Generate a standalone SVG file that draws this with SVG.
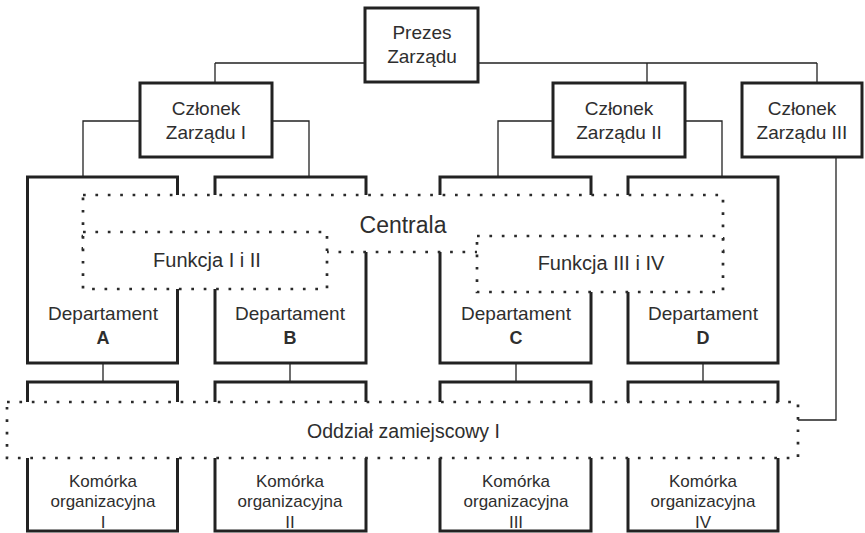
<svg xmlns="http://www.w3.org/2000/svg" width="865" height="533" viewBox="0 0 865 533">
<style>
.box{fill:#fff;stroke:#222;stroke-width:3}
.con{fill:none;stroke:#222;stroke-width:1.3}
.dot{fill:#fff;stroke:#2a2a2a;stroke-width:2.7;stroke-dasharray:2.7 9.7}
text{font-family:"Liberation Sans",Arial,sans-serif;fill:#2e2e2e;text-anchor:middle}
.t{font-size:19px}
.s{font-size:17px}
.b{font-size:18px;font-weight:bold}
</style>
<rect width="865" height="533" fill="#fff"/>
<g id="connectors">
<path class="con" d="M215 63H365M215 63V83M478 63H817M647 63V83M817 63V83"/>
<path class="con" d="M140 121H83V177M272 121H309V177"/>
<path class="con" d="M553 121H498V177M685 121H722V177"/>
<path class="con" d="M836 158V420H798"/>
<path class="con" d="M103 363V382M290 363V382M516 363V382M703 363V382"/>
</g>
<g id="prezes"><rect class="box" x="365" y="8" width="113" height="74"/><text class="t" x="422" y="39">Prezes</text><text class="t" x="422" y="63">Zarządu</text></g>
<g id="czlonek1"><rect class="box" x="140" y="83" width="132" height="74"/><text class="t" x="206" y="114.5">Członek</text><text class="t" x="206" y="139">Zarządu I</text></g>
<g id="czlonek2"><rect class="box" x="553" y="83" width="132" height="74"/><text class="t" x="619" y="114.5">Członek</text><text class="t" x="619" y="139">Zarządu II</text></g>
<g id="czlonek3"><rect class="box" x="742" y="83" width="120" height="74"/><text class="t" x="802" y="114.5">Członek</text><text class="t" x="802" y="139">Zarządu III</text></g>
<g id="depA"><rect class="box" x="27.5" y="177" width="150" height="186"/><text class="t" x="103" y="320">Departament</text><text class="b" x="103" y="344">A</text></g>
<g id="depB"><rect class="box" x="215" y="177" width="151" height="186"/><text class="t" x="290" y="320">Departament</text><text class="b" x="290" y="344">B</text></g>
<g id="depC"><rect class="box" x="440" y="177" width="151" height="186"/><text class="t" x="516" y="320">Departament</text><text class="b" x="516" y="344">C</text></g>
<g id="depD"><rect class="box" x="628" y="177" width="150" height="186"/><text class="t" x="703" y="320">Departament</text><text class="b" x="703" y="344">D</text></g>
<g id="komI"><rect class="box" x="27.5" y="382" width="150" height="149"/><text class="s" x="103" y="487">Komórka</text><text class="s" x="103" y="507">organizacyjna</text><text class="s" x="103" y="528">I</text></g>
<g id="komII"><rect class="box" x="215" y="382" width="151" height="149"/><text class="s" x="290" y="487">Komórka</text><text class="s" x="290" y="507">organizacyjna</text><text class="s" x="290" y="528">II</text></g>
<g id="komIII"><rect class="box" x="440" y="382" width="151" height="149"/><text class="s" x="516" y="487">Komórka</text><text class="s" x="516" y="507">organizacyjna</text><text class="s" x="516" y="528">III</text></g>
<g id="komIV"><rect class="box" x="628" y="382" width="150" height="149"/><text class="s" x="703" y="487">Komórka</text><text class="s" x="703" y="507">organizacyjna</text><text class="s" x="703" y="528">IV</text></g>
<g id="centrala"><rect class="dot" x="83" y="195" width="640" height="57"/><text x="403" y="233" style="font-size:23px">Centrala</text></g>
<g id="funkcja12"><rect class="dot" x="83" y="232" width="244" height="57"/><text x="207" y="267" style="font-size:20px">Funkcja I i II</text></g>
<g id="funkcja34"><rect class="dot" x="477" y="236" width="246" height="56"/><text x="601" y="270" style="font-size:20px">Funkcja III i IV</text></g>
<g id="oddzial"><rect class="dot" x="7" y="402" width="791" height="56"/><text class="t" x="403.5" y="438" style="font-size:19.5px">Oddział zamiejscowy I</text></g>
</svg>
